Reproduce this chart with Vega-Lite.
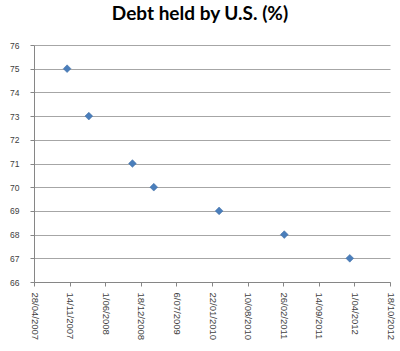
{
  "$schema": "https://vega.github.io/schema/vega-lite/v6.json",
  "width": 356,
  "height": 237,
  "autosize": "none",
  "padding": {"left": 34, "top": 45, "right": 10, "bottom": 69},
  "background": "white",
  "title": {
    "text": "Debt held by U.S. (%)",
    "font": "Lato",
    "fontSize": 19,
    "fontWeight": "bold",
    "color": "#000000",
    "baseline": "alphabetic",
    "offset": 2,
    "dx": -12
  },
  "config": {
    "view": {"stroke": null},
    "axis": {
      "labelFont": "Liberation Sans",
      "labelColor": "#404040",
      "domainColor": "#868686",
      "tickColor": "#868686",
      "gridColor": "#a6a6a6",
      "tickSize": 4
    }
  },
  "data": {
    "values": [
      {"date": "2007-10-31", "pct": 75},
      {"date": "2008-03-01", "pct": 73},
      {"date": "2008-11-01", "pct": 71},
      {"date": "2009-03-01", "pct": 70},
      {"date": "2010-03-03", "pct": 69},
      {"date": "2011-03-04", "pct": 68},
      {"date": "2012-03-06", "pct": 67}
    ]
  },
  "mark": {"type": "point", "shape": "diamond", "filled": true, "size": 60, "color": "#4a7ebb", "stroke": "#3d6ba3", "strokeWidth": 0.5, "opacity": 1},
  "encoding": {
    "x": {
      "field": "date",
      "type": "temporal",
      "scale": {
        "type": "utc",
        "nice": false,
        "domain": [
          {"year": 2007, "month": 4, "date": 28, "utc": true},
          {"year": 2012, "month": 10, "date": 18, "utc": true}
        ]
      },
      "axis": {
        "title": null,
        "grid": false,
        "labelExpr": "utcFormat(datum.value, '%-d/%m/%Y')",
        "labelAngle": 90,
        "labelAlign": "left",
        "labelBaseline": "middle",
        "labelFontSize": 9.5,
        "labelPadding": 6,
        "labelOverlap": false,
        "labelFlush": false,
        "values": [
          {"year": 2007, "month": 4, "date": 28, "utc": true},
          {"year": 2007, "month": 11, "date": 14, "utc": true},
          {"year": 2008, "month": 6, "date": 1, "utc": true},
          {"year": 2008, "month": 12, "date": 18, "utc": true},
          {"year": 2009, "month": 7, "date": 6, "utc": true},
          {"year": 2010, "month": 1, "date": 22, "utc": true},
          {"year": 2010, "month": 8, "date": 10, "utc": true},
          {"year": 2011, "month": 2, "date": 26, "utc": true},
          {"year": 2011, "month": 9, "date": 14, "utc": true},
          {"year": 2012, "month": 4, "date": 1, "utc": true},
          {"year": 2012, "month": 10, "date": 18, "utc": true}
        ]
      }
    },
    "y": {
      "field": "pct",
      "type": "quantitative",
      "scale": {"domain": [66, 76], "nice": false, "zero": false},
      "axis": {
        "title": null,
        "grid": true,
        "values": [66, 67, 68, 69, 70, 71, 72, 73, 74, 75, 76],
        "labelFontSize": 8.5,
        "labelPadding": 11,
        "labelOverlap": false,
        "labelFlush": false
      }
    }
  }
}
